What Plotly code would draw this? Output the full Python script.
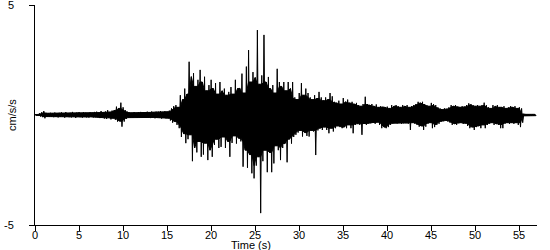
import plotly.graph_objects as go

# Accelerogram: for every 0.25 s step, the upper peak
# (at the step start) and the lower peak (half a step later), in cm/s/s.
STEP = 0.25
UP = [
    0.02, 0.02, 0.08, 0.12,   # 0 s
    0.18, 0.10, 0.08, 0.10,   # 1
    0.09, 0.11, 0.08, 0.10,   # 2
    0.12, 0.09, 0.13, 0.08,   # 3
    0.10, 0.14, 0.09, 0.11,   # 4
    0.13, 0.08, 0.12, 0.10,   # 5
    0.09, 0.12, 0.10, 0.14,   # 6
    0.15, 0.11, 0.18, 0.12,   # 7
    0.16, 0.22, 0.14, 0.20,   # 8
    0.22, 0.38, 0.30, 0.56,   # 9
    0.35, 0.22, 0.15, 0.12,   # 10
    0.10, 0.13, 0.09, 0.12,   # 11
    0.14, 0.10, 0.12, 0.15,   # 12
    0.12, 0.16, 0.13, 0.15,   # 13
    0.15, 0.18, 0.14, 0.17,   # 14
    0.15, 0.20, 0.30, 0.40,   # 15
    0.45, 0.35, 0.90, 0.70,   # 16
    1.20, 0.95, 2.42, 1.74,   # 17
    1.90, 1.30, 1.60, 2.05,   # 18
    1.50, 1.74, 1.10, 1.36,   # 19
    1.60, 1.20, 1.45, 0.95,   # 20
    1.50, 1.10, 1.20, 0.90,   # 21
    1.05, 1.27, 0.95, 1.60,   # 22
    1.20, 1.23, 1.88, 1.00,   # 23
    2.20, 2.95, 1.50, 1.95,   # 24
    1.70, 3.86, 1.40, 1.80,   # 25
    3.64, 1.50, 1.73, 1.20,   # 26
    1.36, 1.00, 2.10, 1.50,   # 27
    1.30, 1.50, 1.10, 1.50,   # 28
    1.20, 1.50, 0.80, 0.70,   # 29
    1.00, 1.45, 0.90, 1.20,   # 30
    1.00, 0.80, 0.70, 0.90,   # 31
    0.75, 1.05, 0.80, 0.65,   # 32
    0.80, 0.70, 1.00, 0.85,   # 33
    0.60, 0.55, 0.65, 0.50,   # 34
    0.77, 0.60, 0.70, 0.55,   # 35
    0.60, 0.50, 0.55, 0.45,   # 36
    0.40, 0.50, 0.83, 0.50,   # 37
    0.45, 0.50, 0.40, 0.48,   # 38
    0.35, 0.40, 0.38, 0.35,   # 39
    0.38, 0.30, 0.45, 0.40,   # 40
    0.45, 0.40, 0.35, 0.45,   # 41
    0.40, 0.45, 0.35, 0.40,   # 42
    0.45, 0.50, 0.60, 0.55,   # 43
    0.60, 0.50, 0.45, 0.40,   # 44
    0.55, 0.50, 0.45, 0.35,   # 45
    0.30, 0.25, 0.30, 0.28,   # 46
    0.35, 0.45, 0.40, 0.45,   # 47
    0.38, 0.35, 0.40, 0.38,   # 48
    0.45, 0.53, 0.50, 0.45,   # 49
    0.40, 0.45, 0.40, 0.45,   # 50
    0.56, 0.45, 0.35, 0.30,   # 51
    0.45, 0.40, 0.45, 0.35,   # 52
    0.35, 0.40, 0.30, 0.35,   # 53
    0.40, 0.35, 0.40, 0.30,   # 54
    0.35, 0.30, 0.05, 0.03,   # 55
    0.03, 0.03, 0.03, 0.03,   # 56
]
DN = [
    -0.02, -0.02, -0.07, -0.10,   # 0 s
    -0.15, -0.09, -0.08, -0.09,   # 1
    -0.10, -0.08, -0.11, -0.09,   # 2
    -0.09, -0.12, -0.08, -0.10,   # 3
    -0.11, -0.09, -0.13, -0.08,   # 4
    -0.10, -0.12, -0.09, -0.11,   # 5
    -0.12, -0.08, -0.11, -0.10,   # 6
    -0.10, -0.14, -0.12, -0.16,   # 7
    -0.18, -0.13, -0.20, -0.15,   # 8
    -0.22, -0.30, -0.28, -0.53,   # 9
    -0.30, -0.18, -0.13, -0.12,   # 10
    -0.11, -0.09, -0.12, -0.10,   # 11
    -0.10, -0.13, -0.11, -0.12,   # 12
    -0.14, -0.11, -0.15, -0.12,   # 13
    -0.13, -0.16, -0.12, -0.15,   # 14
    -0.15, -0.25, -0.35, -0.30,   # 15
    -0.45, -0.60, -1.00, -0.85,   # 16
    -1.28, -1.10, -0.90, -2.10,   # 17
    -1.50, -1.70, -1.20, -1.90,   # 18
    -1.80, -1.28, -2.05, -1.60,   # 19
    -1.90, -1.36, -1.10, -1.50,   # 20
    -1.45, -1.00, -1.50, -1.20,   # 21
    -1.90, -1.27, -0.95, -1.30,   # 22
    -1.06, -1.20, -2.35, -1.60,   # 23
    -2.40, -1.80, -2.65, -2.88,   # 24
    -2.30, -1.90, -4.46, -2.10,   # 25
    -1.60, -2.60, -1.70, -2.60,   # 26
    -2.20, -1.40, -1.60, -2.05,   # 27
    -1.50, -1.30, -2.15, -1.10,   # 28
    -1.30, -1.00, -0.90, -0.80,   # 29
    -0.70, -0.98, -0.80, -0.95,   # 30
    -0.98, -0.70, -0.75, -1.82,   # 31
    -0.70, -0.60, -0.68, -0.55,   # 32
    -0.68, -0.83, -0.60, -0.75,   # 33
    -0.60, -0.50, -0.55, -0.60,   # 34
    -0.55, -0.60, -0.45, -0.60,   # 35
    -0.83, -0.45, -0.40, -0.45,   # 36
    -0.90, -0.40, -0.45, -0.38,   # 37
    -0.38, -0.35, -0.40, -0.33,   # 38
    -0.45, -0.60, -0.55, -0.60,   # 39
    -0.55, -0.45, -0.38, -0.35,   # 40
    -0.38, -0.35, -0.40, -0.38,   # 41
    -0.38, -0.40, -0.68, -0.35,   # 42
    -0.40, -0.45, -0.53, -0.50,   # 43
    -0.68, -0.53, -0.40, -0.35,   # 44
    -0.60, -0.55, -0.45, -0.40,   # 45
    -0.30, -0.28, -0.25, -0.30,   # 46
    -0.35, -0.45, -0.40, -0.45,   # 47
    -0.38, -0.35, -0.40, -0.38,   # 48
    -0.50, -0.60, -0.55, -0.68,   # 49
    -0.55, -0.50, -0.60, -0.45,   # 50
    -0.60, -0.45, -0.40, -0.35,   # 51
    -0.45, -0.40, -0.45, -0.60,   # 52
    -0.60, -0.40, -0.35, -0.40,   # 53
    -0.35, -0.40, -0.35, -0.45,   # 54
    -0.55, -0.35, -0.04, -0.03,   # 55
    -0.03, -0.03, -0.03, -0.03,   # 56
]
X_TICKS = [0, 5, 10, 15, 20, 25, 30, 35, 40, 45, 50, 55]
Y_TICKS = [-5, 5]
Y_TICK_TEXT = ["-5", "5"]
X_TITLE = "Time (s)"
Y_TITLE = "cm/s/s"

t_up = [i * STEP for i in range(len(UP))]
t_dn = [i * STEP + STEP / 2 for i in range(len(DN))]

# zig-zag trace through alternating peaks
t, a = [], []
for tu, u, td, d in zip(t_up, UP, t_dn, DN):
    t += [tu, td]
    a += [u, d]

# solid core of the dense trace: up to the lowest of neighbouring peaks
n = len(UP)
core_up = [min(UP[max(i - 1, 0):i + 2]) for i in range(n)]
core_dn = [max(DN[max(i - 1, 0):i + 2]) for i in range(n)]

FONT = dict(family="Liberation Sans, Arial, sans-serif", size=11, color="black")

fig = go.Figure()
fig.add_trace(go.Scatter(x=t_up + t_dn[::-1], y=core_up + core_dn[::-1],
                         mode="lines", fill="toself", fillcolor="black",
                         line=dict(color="black", width=1),
                         hoverinfo="skip", showlegend=False))
fig.add_trace(go.Scatter(x=t, y=a, mode="lines", fill="tozeroy",
                         fillcolor="black",
                         line=dict(color="black", width=1),
                         hoverinfo="skip", showlegend=False))

ann = []
for v in X_TICKS:
    ann.append(dict(text=str(v), xref="x", yref="paper", x=v, y=0, yshift=-10,
                    xanchor="center", yanchor="middle", showarrow=False, font=FONT))
for v, s in zip(Y_TICKS, Y_TICK_TEXT):
    ann.append(dict(text=s, xref="paper", yref="y", x=0, y=v, xshift=-19,
                    xanchor="right", yanchor="middle", showarrow=False, font=FONT))
ann.append(dict(text=X_TITLE, xref="paper", yref="paper", x=(251 - 35) / 502, y=0,
                yshift=-20, xanchor="center", yanchor="middle", showarrow=False,
                font=FONT))
ann.append(dict(text=Y_TITLE, xref="paper", yref="paper", x=0, y=0.5,
                xshift=-23, xanchor="center", yanchor="middle", textangle=-90,
                showarrow=False, font=FONT))

fig.update_layout(
    width=550, height=250,
    margin=dict(l=35, r=13, t=5, b=25),
    paper_bgcolor="white", plot_bgcolor="white",
    font=FONT,
    xaxis=dict(range=[0, 57], tickvals=X_TICKS, ticks="outside", ticklen=5,
               tickcolor="black", tickwidth=1, showline=True, linecolor="black",
               linewidth=1, showgrid=False, zeroline=False, showticklabels=False),
    yaxis=dict(range=[-5, 5], tickvals=Y_TICKS, ticks="outside", ticklen=5,
               tickcolor="black", tickwidth=1, showline=True, linecolor="black",
               linewidth=1, showgrid=False, zeroline=False, showticklabels=False),
    annotations=ann,
)

fig.write_html("out.html")
